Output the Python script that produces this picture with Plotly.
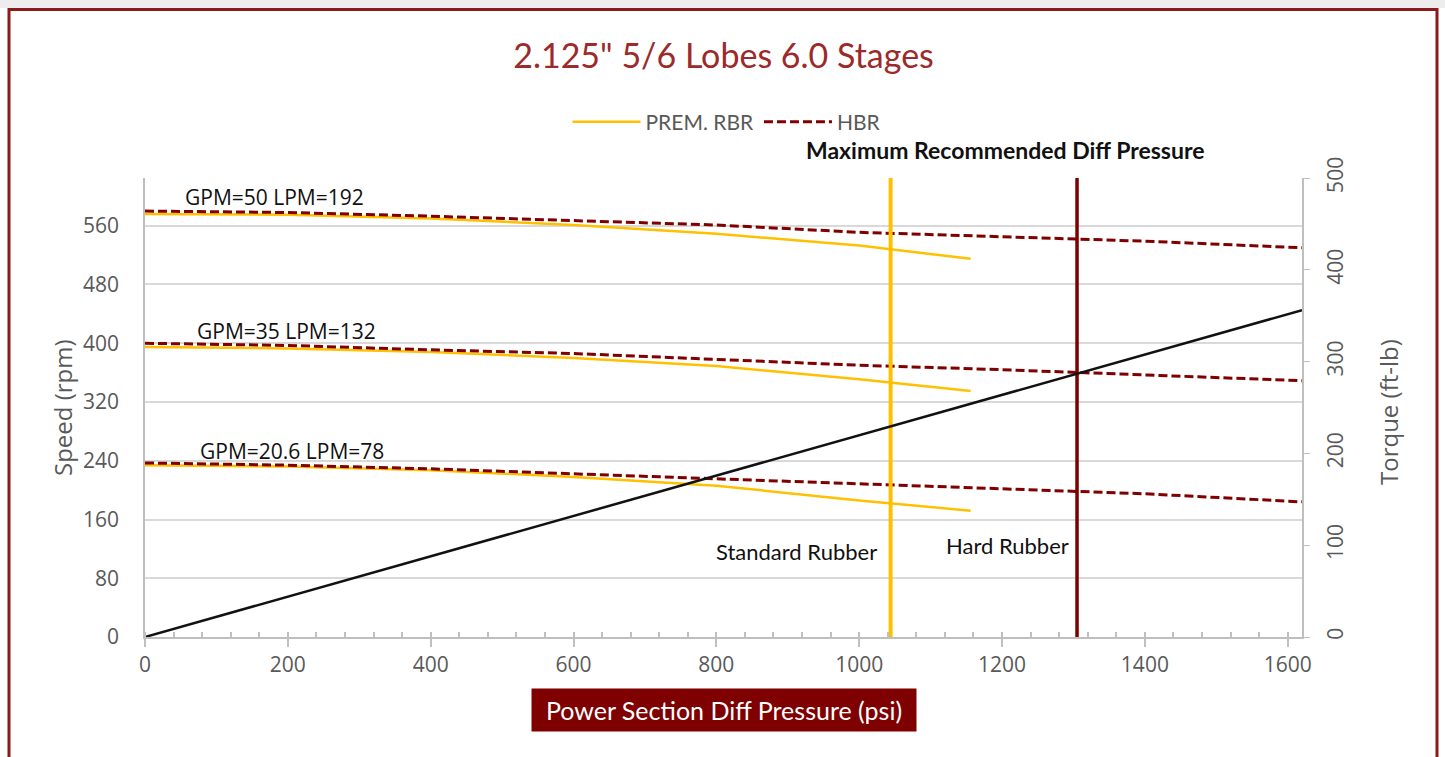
import plotly.graph_objects as go

# ---------------- data ----------------
pressure_hbr = [0, 200, 400, 600, 800, 1000, 1200, 1400, 1620]
hbr_50 = [580, 578, 573, 567, 561, 551, 545, 539, 530]
hbr_35 = [400, 397, 391, 386, 378, 370, 364, 357, 349]
hbr_20 = [237, 234, 229, 222, 215, 208, 202, 195, 184]

pressure_prem = [0, 200, 400, 600, 800, 1000, 1156]
prem_50 = [576, 575, 570, 561, 549, 533, 515]
prem_35 = [395, 393, 388, 380, 369, 351, 335]
prem_20 = [234, 232, 227, 218, 206, 186, 172]

pressure_torque = [0, 1620]
torque = [0, 356]

std_rubber_limit = 1044
hard_rubber_limit = 1305
speed_max = 625

flow_labels = ["GPM=50 LPM=192", "GPM=35 LPM=132", "GPM=20.6 LPM=78"]

# ---------------- styling ----------------
W, H = 1445, 757
ML, MR, MT, MB = 145, 143, 178, 120
PW, PH = W - ML - MR, H - MT - MB

def px(x):
    return (x - ML) / PW

def py(y):
    return (H - MB - y) / PH

YELLOW = "#FFC000"
MAROON = "#800000"
GRAY = "#595959"
SEGOE = "Open Sans"
CALIBRI = "Lato"

fig = go.Figure()

for i, ys in enumerate([prem_50, prem_35, prem_20]):
    fig.add_trace(go.Scatter(x=pressure_prem, y=ys, mode="lines", name="PREM. RBR",
                             legendgroup="prem", showlegend=(i == 0),
                             line=dict(color=YELLOW, width=2.5)))
for i, ys in enumerate([hbr_50, hbr_35, hbr_20]):
    fig.add_trace(go.Scatter(x=pressure_hbr, y=ys, mode="lines", name="HBR",
                             legendgroup="hbr", showlegend=(i == 0),
                             line=dict(color=MAROON, width=3, dash="9px,4px")))

fig.add_trace(go.Scatter(x=[std_rubber_limit, std_rubber_limit], y=[0, speed_max], mode="lines",
                         showlegend=False, line=dict(color=YELLOW, width=4)))
fig.add_trace(go.Scatter(x=[hard_rubber_limit, hard_rubber_limit], y=[0, speed_max], mode="lines",
                         showlegend=False, line=dict(color="#7B0000", width=3.5)))
fig.add_trace(go.Scatter(x=pressure_torque, y=torque, mode="lines", yaxis="y2",
                         showlegend=False, line=dict(color="#111111", width=2.5)))

annotations = [
    dict(x=182, y=599, text=flow_labels[0]),
    dict(x=198, y=417, text=flow_labels[1]),
    dict(x=206, y=253, text=flow_labels[2]),
]
for a in annotations:
    a.update(xref="x", yref="y", showarrow=False, xanchor="center", yanchor="middle",
             font=dict(family=SEGOE, size=21, color="#111111"))

def pa(x, y, text, font, **kw):
    d = dict(x=px(x), y=py(y), xref="paper", yref="paper", text=text, showarrow=False,
             xanchor="center", yanchor="middle", font=font)
    d.update(kw)
    return d

annotations += [
    pa(797, 551, "Standard Rubber", dict(family=CALIBRI, size=22, color="#111111")),
    pa(1007, 545, "Hard Rubber", dict(family=CALIBRI, size=22, color="#111111")),
    pa(1005, 150, "<b>Maximum Recommended Diff Pressure</b>",
       dict(family=CALIBRI, size=23, color="#111111")),
    pa(724, 710, "Power Section Diff Pressure (psi)", dict(family=CALIBRI, size=25, color="white"),
       bgcolor="#7F0000", borderpad=0, width=384, height=42),
    pa(62, 408, "Speed (rpm)", dict(family=SEGOE, size=24, color=GRAY), textangle=-90),
    pa(1388, 412, "Torque (ft-lb)", dict(family=SEGOE, size=24, color=GRAY), textangle=-90),
]

shapes = [
    dict(type="rect", xref="paper", yref="paper", x0=px(0), x1=px(W), y0=py(8), y1=py(0),
         fillcolor="#EDEDED", line=dict(width=0), layer="below"),
    dict(type="rect", xref="paper", yref="paper", x0=px(9), x1=px(1437), y0=py(800), y1=py(9.5),
         line=dict(color="#8B1A1A", width=3), fillcolor="rgba(0,0,0,0)"),
]

fig.update_layout(
    width=W, height=H,
    margin=dict(l=ML, r=MR, t=MT, b=MB, pad=0),
    paper_bgcolor="white", plot_bgcolor="white",
    title=dict(text='2.125" 5/6 Lobes 6.0 Stages', x=0.5, xref="paper", xanchor="center",
               y=1 - 56 / H, yanchor="middle", yref="container",
               font=dict(family=CALIBRI, size=34, color="#9C2A2A")),
    legend=dict(orientation="h", x=px(727), xanchor="center", y=py(122), yanchor="middle",
                font=dict(family=CALIBRI, size=21, color=GRAY), itemwidth=68,
                bgcolor="rgba(0,0,0,0)"),
    xaxis=dict(range=[0, 1620], tickvals=[0, 200, 400, 600, 800, 1000, 1200, 1400, 1600],
               showgrid=False, zeroline=False, showline=True, linecolor="#BFBFBF", linewidth=1.5,
               ticks="outside", ticklen=8, tickcolor="#BFBFBF", tickwidth=1.5,
               minor=dict(dtick=40, ticks="inside", ticklen=5, tickcolor="#BFBFBF", tickwidth=1.5),
               tickfont=dict(family=SEGOE, size=21, color=GRAY)),
    yaxis=dict(range=[0, speed_max], dtick=80, tick0=0, showgrid=True, gridcolor="#D9D9D9",
               gridwidth=1.5, zeroline=False, showline=True, linecolor="#BFBFBF", linewidth=1.5,
               ticks="", ticklabelstandoff=20, tickfont=dict(family=SEGOE, size=21, color=GRAY)),
    yaxis2=dict(range=[0, 500], dtick=100, overlaying="y", side="right", showgrid=False,
                zeroline=False, showline=True, linecolor="#BFBFBF", linewidth=1.5,
                ticks="outside", ticklen=6, tickcolor="#BFBFBF", tickangle=-90,
                ticklabelstandoff=8, tickfont=dict(family=SEGOE, size=21, color=GRAY)),
    annotations=annotations,
    shapes=shapes,
)

fig.write_html("out.html", config={"displayModeBar": False},
               post_script="document.body.style.margin='0';")
